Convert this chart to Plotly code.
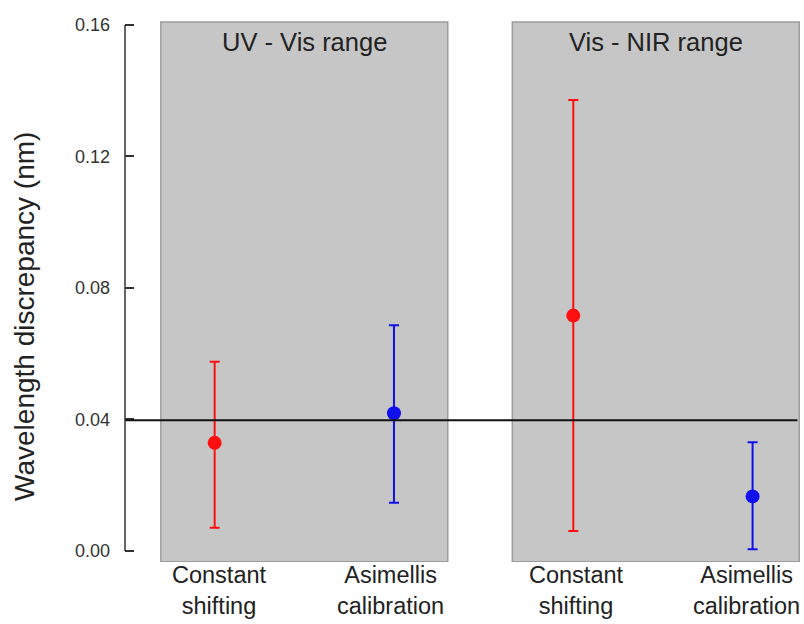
import plotly.graph_objects as go

categories = ["Constant<br>shifting", "Asimellis<br>calibration", "Constant<br>shifting", "Asimellis<br>calibration"]
x_pos = [1, 2, 3, 4]
values = [0.0329, 0.0419, 0.0716, 0.0166]
err_plus = [0.0247, 0.0268, 0.0656, 0.0165]
err_minus = [0.0258, 0.0272, 0.0655, 0.0161]
colors = ["#ff1010", "#1010ee", "#ff1010", "#1010ee"]
panel_titles = ["UV - Vis range", "Vis - NIR range"]
panel_x = [(0.70, 2.30), (2.66, 4.26)]
ref_line = 0.0398
y_ticks = [0.00, 0.04, 0.08, 0.12, 0.16]
y_tick_text = ["0.00", "0.04", "0.08", "0.12", "0.16"]
y_title = "Wavelength discrepancy (nm)"

label_shift_px = [5, -3, 3, -6]  # small horizontal offsets of category labels, as in the reference

fig = go.Figure()

shapes = []
annotations = []
for (x0, x1), title in zip(panel_x, panel_titles):
    shapes.append(dict(type="rect", xref="x", yref="y", x0=x0, x1=x1, y0=-0.0033, y1=0.1609,
                       fillcolor="#c6c6c6", line=dict(color="#9c9c9c", width=1.5), layer="below"))
    annotations.append(dict(x=(x0 + x1) / 2, y=0.1549, xref="x", yref="y", text=title, showarrow=False,
                            font=dict(family="Liberation Sans, Arial", size=25.5, color="#222222")))

# category labels below the plot
for xp, lab, sh in zip(x_pos, categories, label_shift_px):
    annotations.append(dict(x=xp, y=0, xref="x", yref="paper", yanchor="top", xanchor="center",
                            xshift=sh, yshift=2, text=lab, showarrow=False, align="center",
                            font=dict(family="Liberation Sans, Arial", size=23.5, color="#222222")))

# y-axis title
annotations.append(dict(x=-0.148, y=0.4514, xref="paper", yref="paper", text=y_title, textangle=-90,
                        showarrow=False, xanchor="center", yanchor="middle",
                        font=dict(family="Liberation Sans, Arial", size=28, color="#222222")))

# reference line
shapes.append(dict(type="line", xref="x", yref="y", x0=0.5, x1=4.25, y0=ref_line, y1=ref_line,
                   line=dict(color="#111111", width=2)))
# y-axis line from 0 to 0.16
shapes.append(dict(type="line", xref="paper", yref="y", x0=0, x1=0, y0=0, y1=0.16,
                   line=dict(color="#333333", width=1.5)))

for i in range(4):
    fig.add_trace(go.Scatter(
        x=[x_pos[i]], y=[values[i]], mode="markers",
        marker=dict(size=14, color=colors[i], line=dict(width=0)),
        error_y=dict(type="data", symmetric=False, array=[err_plus[i]], arrayminus=[err_minus[i]],
                     color=colors[i], thickness=2, width=5),
        showlegend=False,
    ))

fig.update_layout(
    width=804, height=624,
    margin=dict(l=125, r=3, t=17, b=62, autoexpand=False),
    plot_bgcolor="white", paper_bgcolor="white",
    shapes=shapes, annotations=annotations,
    font=dict(family="Liberation Sans, Arial", color="#222222"),
    xaxis=dict(range=[0.5, 4.27], tickvals=x_pos, showticklabels=False, showgrid=False,
               zeroline=False, showline=False, ticks="", automargin=False),
    yaxis=dict(range=[-0.00335, 0.16243], tickvals=y_ticks, ticktext=y_tick_text, showgrid=False,
               zeroline=False, showline=False, ticks="inside", ticklen=9, tickwidth=1.5, automargin=False,
               tickcolor="#333333", ticklabelstandoff=14, tickfont=dict(size=18, color="#333333")),
)

fig.write_html("out.html")
